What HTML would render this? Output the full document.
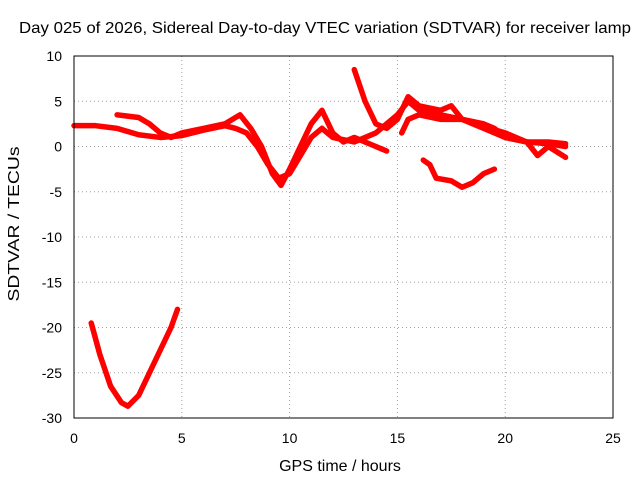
<!DOCTYPE html>
<html><head><meta charset="utf-8"><style>
body{margin:0;background:#fff;}
svg{display:block;font-family:"Liberation Sans",sans-serif;}
</style></head><body>
<svg id="chart" width="640" height="480">
<text x="325" y="33" font-size="16" text-anchor="middle" textLength="612" lengthAdjust="spacingAndGlyphs">Day 025 of 2026, Sidereal Day-to-day VTEC variation (SDTVAR) for receiver lamp</text>
<text x="340" y="471" font-size="16" text-anchor="middle">GPS time / hours</text>
<text transform="translate(19,224) rotate(-90)" font-size="16" text-anchor="middle" textLength="155" lengthAdjust="spacingAndGlyphs">SDTVAR / TECUs</text>
<g id="grid"></g><g id="ticks"></g><g id="series"></g>
<rect x="74" y="56" width="539" height="362" fill="none" stroke="#000" stroke-width="1"/>
</svg>
<script>
const xTicks=[0,5,10,15,20,25];
const yTicks=[10,5,0,-5,-10,-15,-20,-25,-30];
const s1=[[0,2.3],[1,2.3],[2,2.0],[3,1.3],[4,1.0],[5,1.2],[6,1.8],[7,2.3],[7.5,2.0],[8,1.5],[8.5,0],[9,-2],[9.5,-3.5],[10,-3],[10.5,-1],[11,1],[11.5,2],[12,1],[13,0.5],[14,1.5],[15,3.5],[15.5,5],[16,4],[17,3.5],[18,3],[19,2],[20,1],[21,0.5],[22,0.3],[22.8,0]];
const s2=[[2,3.5],[3,3.2],[3.5,2.5],[4,1.5],[4.5,1],[5,1.5],[6,2],[7,2.5],[7.7,3.5],[8.2,2],[8.7,0],[9.2,-3],[9.6,-4.3],[10,-2.5],[10.5,0],[11,2.5],[11.5,4],[12,1.5],[12.5,0.5],[13,1],[13.5,0.5],[14,0],[14.5,-0.5]];
const s3=[[13,8.5],[13.5,5],[14,2.5],[14.5,2],[15,3],[15.5,5.5],[16,4.5],[17,4],[17.5,4.5],[18,3],[19,2.5],[19.5,2],[20,1],[21,0.5],[22,0.5],[22.8,0.3]];
const s4=[[15.2,1.5],[15.5,3],[16,3.5],[17,3],[18,3],[19,2.2],[20,1.5],[21,0.5],[21.5,-1],[22,0],[22.8,-1.2]];
const s5=[[16.2,-1.5],[16.5,-2],[16.8,-3.5],[17.5,-3.8],[18,-4.5],[18.5,-4],[19,-3],[19.5,-2.5]];
const s6=[[0.8,-19.5],[1.2,-23],[1.7,-26.5],[2.2,-28.3],[2.5,-28.7],[3,-27.5],[3.5,-25],[4,-22.5],[4.5,-20],[4.8,-18]];
const allSeries=[s1,s2,s3,s4,s5,s6];
const X=v=>74+v*539/25, Y=v=>56+(10-v)*362/40;
const NS="http://www.w3.org/2000/svg";
function mk(tag,attrs,parent){const e=document.createElementNS(NS,tag);for(const k in attrs)e.setAttribute(k,attrs[k]);parent.appendChild(e);return e;}
const grid=document.getElementById('grid'),ticks=document.getElementById('ticks'),ser=document.getElementById('series');
xTicks.forEach(t=>{
  if(t>0&&t<25){const g=mk('line',{x1:X(t),x2:X(t),y1:56,y2:418,stroke:'#a0a0a0','stroke-dasharray':'1,3'},grid);
  
  }
  const l=mk('text',{x:X(t),y:443,'font-size':14,'text-anchor':'middle'},ticks);l.textContent=t;
  
  
});
yTicks.forEach(t=>{
  if(t<10&&t>-30){const g=mk('line',{x1:74,x2:613,y1:Y(t),y2:Y(t),stroke:'#a0a0a0','stroke-dasharray':'1,3'},grid);
  
  }
  const l=mk('text',{x:62,y:Y(t)+5,'font-size':14,'text-anchor':'end'},ticks);l.textContent=t;
  
  
});
allSeries.forEach((s,i)=>{
  const p=mk('polyline',{points:s.map(d=>X(d[0])+','+Y(d[1])).join(' '),fill:'none',stroke:'#f00','stroke-width':5.5,'stroke-linejoin':'round','stroke-linecap':'round'},ser);
  
  
});
</script>
</body></html>
